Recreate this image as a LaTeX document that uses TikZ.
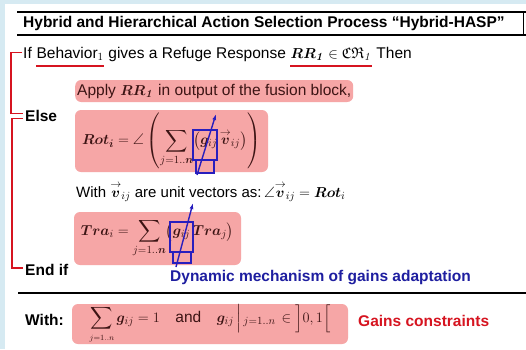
\documentclass[tikz,border=0pt]{standalone}
\usepackage{amsmath,amssymb}
\usepackage{bm}
\usepackage[no-math]{fontspec}
\setmainfont{Liberation Sans}
\usetikzlibrary{arrows.meta}

\definecolor{panelblue}{RGB}{214,234,242}
\definecolor{boxpink}{RGB}{246,166,166}
\definecolor{bracketred}{RGB}{214,20,32}
\definecolor{overlayblue}{RGB}{40,30,190}
\definecolor{labelblue}{RGB}{30,30,160}
\definecolor{inktext}{RGB}{60,20,20}

\tikzset{
  txt/.style={inner sep=0pt, font=\fontsize{15.5}{18}\selectfont},
  kw/.style={inner sep=0pt, font=\bfseries\fontsize{15.5}{18}\selectfont},
  pinkbox/.style={fill=boxpink, rounded corners=6pt, inner sep=0pt, text=inktext,
                  font=\fontsize{15.5}{18}\selectfont},
  bracket/.style={draw=bracketred, line width=1.6pt},
  underl/.style={draw=bracketred, line width=1.4pt},
  hrule/.style={draw=black, line width=1.5pt},
  gainbox/.style={draw=overlayblue, line width=1.4pt, inner sep=0pt},
  gainarrow/.style={draw=overlayblue, line width=1.4pt, -{Latex[length=6pt,width=4pt]}},
}

\begin{document}
\begin{tikzpicture}[x=1pt,y=-1pt]
  \path[use as bounding box] (0,0) rectangle (526,349);
  % frame
  \fill[panelblue] (0,0) rectangle (526,349);
  \fill[white] (5,4) rectangle (526,349);

  % title band
  \coordinate (t1) at (17,12);
  \coordinate (t2) at (526,12);
  \coordinate (t3) at (17,35);
  \coordinate (t4) at (526,35);
  \draw[hrule] (t1) -- (t2);
  \draw[hrule] (t3) -- (t4);
  \draw[line width=0.8pt] (523,12) -- (523,35);
  \node[kw, anchor=west] (title) at (23,23.5)
    {Hybrid and Hierarchical Action Selection Process “Hybrid-HASP”};

  % If line
  \node[txt, anchor=base west] (ifkw) at (23,58) {If\kern0.28em};
  \node[txt, anchor=base west] (beh) at (ifkw.base east) {Behavior$_1$};
  \node[txt, anchor=base west] (gives) at (beh.base east) {\ gives a Refuge Response\kern0.28em};
  \node[txt, anchor=base west] (rr) at (gives.base east) {$\bm{RR_{\mathit 1}}\in\mathfrak{CR}_{\mathit 1}$};
  \node[txt, anchor=base west] (then) at (rr.base east) {\ Then};
  \draw[underl] ([yshift=-8pt]beh.base west) -- ([yshift=-8pt]beh.base east);
  \draw[underl] ([yshift=-8pt]rr.base west) -- ([yshift=-8pt]rr.base east);

  % Then branch
  \node[pinkbox, anchor=west, minimum width=278, minimum height=22] (apply) at (75,91)
    {Apply $\bm{RR_{\mathit 1}}$ in output of the fusion block,};

  % Else branch
  \node[kw, anchor=west] (elsekw) at (25,116) {Else};
  \node[pinkbox, minimum width=193, minimum height=62] (rot) at (171.5,141)
    {$\displaystyle \bm{Rot}_{\bm i} = \angle\left(\sum_{j=1..\bm n}\bigl(\bm g_{ij}\,\overset{\rightarrow}{\bm v}_{ij}\bigr)\right)$};
  \node[txt, anchor=west, font=\fontsize{15}{18}\selectfont] (withv) at (76,192)
    {With $\overset{\rightarrow}{\bm v}_{ij}$ are unit vectors as:$\,\angle\overset{\rightarrow}{\bm v}_{ij} = \bm{Rot}_{i}$};
  \node[pinkbox, minimum width=167, minimum height=53] (tra) at (157.5,238.5)
    {$\displaystyle \bm{Tra}_{i} = \sum_{j=1..\bm n}\bigl(\bm g_{ij}\,\bm{Tra}_{j}\bigr)$};
  \node[kw, anchor=west] (endif) at (25,270) {End if};

  % brackets
  \draw[bracket] ([xshift=-1pt]ifkw.west) -- ++(-11,0) |- ([xshift=-2pt,yshift=2.5pt]elsekw.west);
  \draw[bracket] ([xshift=-2pt,yshift=-2.5pt]elsekw.west) -- ++(-11,0) |- ([xshift=-2pt,yshift=2pt]endif.west);

  % gain adaptation marks
  \node[gainbox, minimum width=24, minimum height=30] (gr) at (205,145) {};
  \node[gainbox, minimum width=18, minimum height=13] (grt) at (205,166.5) {};
  \coordinate (gra) at (197,175);
  \coordinate (grb) at (216,114);
  \draw[gainarrow] (gra) -- (grb);
  \node[gainbox, minimum width=23, minimum height=30] (gt) at (181.5,237) {};
  \node[gainbox, minimum width=18, minimum height=11] (gtt) at (182,257.5) {};
  \coordinate (gta) at (176,267);
  \coordinate (gtb) at (193,203);
  \draw[gainarrow] (gta) -- (gtb);
  \node[kw, text=labelblue, anchor=west] (dyn) at (170,278) {Dynamic mechanism of gains adaptation};

  % constraints
  \coordinate (r1) at (18,293);
  \coordinate (r2) at (526,293);
  \draw[hrule] (r1) -- (r2);
  \node[kw, anchor=west] (withc) at (25,320) {With:};
  \node[pinkbox, minimum width=276, minimum height=40] (cons) at (210,324)
    {$\displaystyle\sum_{\scriptscriptstyle j=1..n}\bm g_{ij} = 1$\quad and\quad
     $\bm g_{ij}\,\Big|\lower2pt\hbox{$\scriptstyle\, j=1..n$}\,\in\Big]0,1\Big[$};
  \node[kw, text=bracketred, anchor=west] (gains) at (358,321) {Gains constraints};
\end{tikzpicture}
\end{document}
